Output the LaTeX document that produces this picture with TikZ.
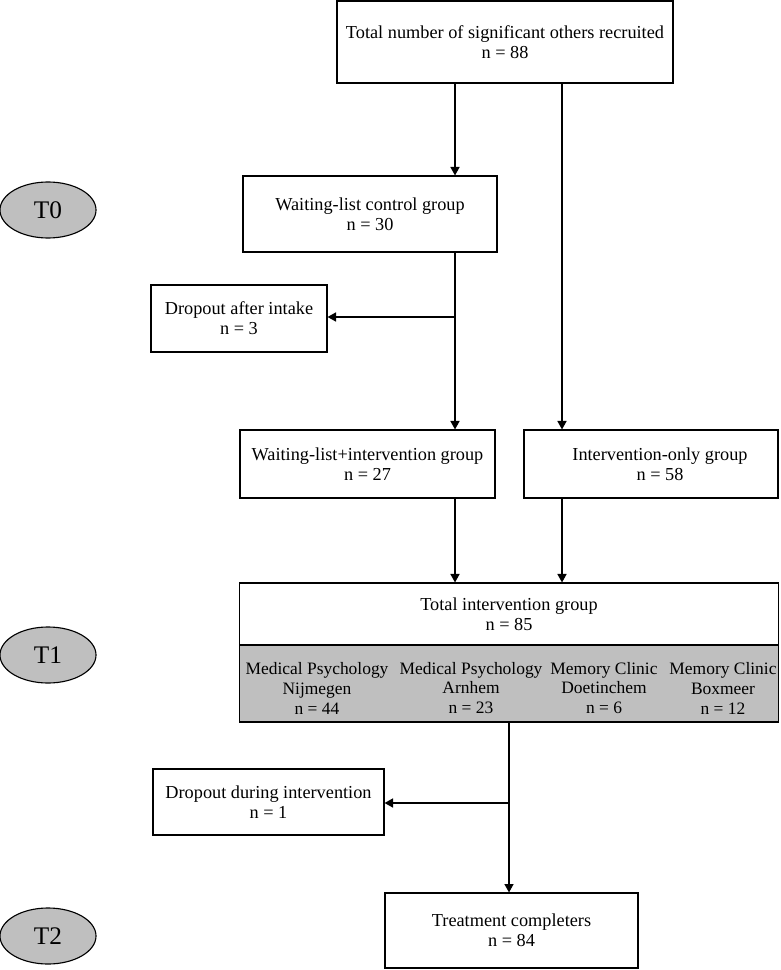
\documentclass[tikz,border=0pt]{standalone}
\usepackage{fontspec}
\setmainfont{Liberation Serif}
\usetikzlibrary{arrows.meta,positioning,shapes.geometric}

\definecolor{sitegray}{RGB}{191,191,191}

\tikzset{
  box/.style={draw, rectangle, line width=0.8pt, align=center, inner sep=0pt,
    font=\fontsize{13}{14.2}\selectfont},
  timepoint/.style={draw, ellipse, line width=0.8pt, fill=sitegray,
    minimum width=2.4cm, minimum height=1.4cm, inner sep=0pt,
    font=\fontsize{18}{20}\selectfont},
  site/.style={align=center, inner sep=0pt, font=\fontsize{12.4}{14.2}\selectfont},
  flow/.style={line width=0.8pt, -{Triangle[length=6pt,width=6.5pt]}}
}

\begin{document}
\begin{tikzpicture}[x=0.025cm, y=-0.025cm]
%      \draw[help lines] (0,0) grid[step=50] (780,970);
      \useasboundingbox (0,0) rectangle (780,970);

      % columns of the connectors
      \coordinate (leftcol)  at (455,0);
      \coordinate (rightcol) at (562,0);
      \coordinate (midcol)   at (509,0);

      % time points
      \node[timepoint] (t0) at (48,210) {T0};
      \node[timepoint] (t1) at (48,655) {T1};
      \node[timepoint] (t2) at (48,936) {T2};

      \node[box, minimum width=8.4cm, minimum height=2.05cm] (recruited) at (505,42)
        {Total number of significant others recruited\\n = 88};

      \node[box, minimum width=6.35cm, minimum height=1.9cm] (wlc) at (370,214)
        {Waiting-list control group\\n = 30};
      \node[box, minimum width=4.4cm, minimum height=1.675cm] (dropintake) at (239,318.5)
        {Dropout after intake\\n = 3};

      \node[box, minimum width=6.375cm, minimum height=1.7cm] (wli) at (367.5,464)
        {Waiting-list+intervention group\\n = 27};
      \node[box, minimum width=6.35cm, minimum height=1.7cm] (ionly) at (651,464)
        {\hspace*{0.45cm}Intervention-only group\\\hspace*{0.45cm}n = 58};

      \node[box, minimum width=13.45cm, minimum height=1.55cm] (totint) at (509,614)
        {Total intervention group\\n = 85};
      \node[box, fill=sitegray, minimum width=13.45cm, minimum height=1.925cm] (sites) at (509,683.5) {};
      \node[site] (nijmegen)   at (317,688) {Medical Psychology\\Nijmegen\\n = 44};
      \node[site] (arnhem)     at (471,688) {Medical Psychology\\Arnhem\\n = 23};
      \node[site] (doetinchem) at (604,688) {Memory Clinic\\Doetinchem\\n = 6};
      \node[site] (boxmeer)    at (723,688) {Memory Clinic\\Boxmeer\\n = 12};

      \node[box, minimum width=5.775cm, minimum height=1.65cm] (dropint) at (268.5,802)
        {Dropout during intervention\\n = 1};
      \node[box, minimum width=6.325cm, minimum height=1.875cm] (completers) at (511.5,930.5)
        {Treatment completers\\n = 84};

      % connectors
      \coordinate (split1) at (455,317);
      \coordinate (split2) at (509,803);

      \draw[flow] (recruited.south -| leftcol) -- (wlc.north -| leftcol);
      \draw[flow] (recruited.south -| rightcol) -- (ionly.north -| rightcol);
      \draw[flow] (wlc.south -| leftcol) -- (wli.north -| leftcol);
      \draw[flow] (split1) -- (split1 -| dropintake.east);
      \draw[flow] (wli.south -| leftcol) -- (totint.north -| leftcol);
      \draw[flow] (ionly.south -| rightcol) -- (totint.north -| rightcol);
      \draw[flow] (sites.south -| midcol) -- (completers.north -| midcol);
      \draw[flow] (split2) -- (split2 -| dropint.east);
\end{tikzpicture}
\end{document}
